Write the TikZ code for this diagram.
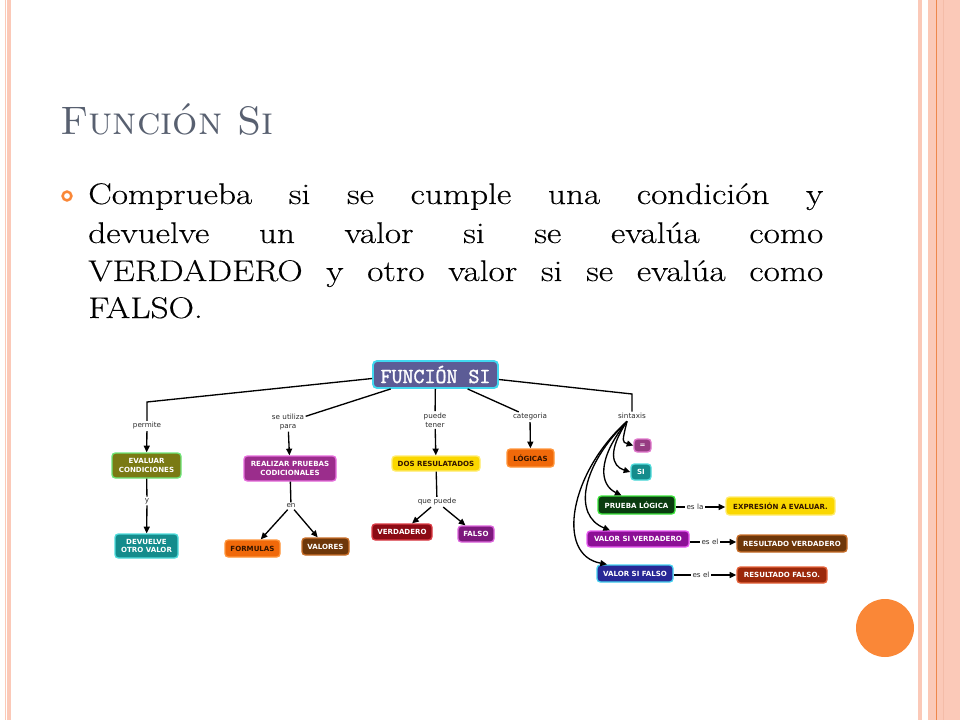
\documentclass[tikz,border=0pt]{standalone}
\usepackage{fontspec}
\usetikzlibrary{arrows.meta,calc}
\newfontfamily\dvs{DejaVu Sans}
\newfontfamily\bodyf{Latin Modern Roman}[FakeStretch=1.18, FakeBold=0.35]
\newfontfamily\fsimono{Latin Modern Mono}[FakeBold=1.6]
\definecolor{pinkst}{RGB}{251,201,184}
\definecolor{orangeln}{RGB}{238,135,75}
\definecolor{darkpink}{RGB}{244,188,168}
\definecolor{dotcol}{RGB}{250,135,55}
\definecolor{titlecol}{RGB}{88,96,112}
\definecolor{labelgray}{RGB}{45,45,45}
\definecolor{fsifill}{RGB}{92,92,150}
\definecolor{fsibord}{RGB}{64,216,240}
\definecolor{olive}{RGB}{122,122,20}
\definecolor{olivebd}{RGB}{110,230,120}
\definecolor{tealf}{RGB}{20,140,140}
\definecolor{tealbd}{RGB}{80,220,220}
\definecolor{magf}{RGB}{155,45,140}
\definecolor{magbd}{RGB}{230,110,220}
\definecolor{orf}{RGB}{240,105,10}
\definecolor{orbd}{RGB}{255,150,60}
\definecolor{ortext}{RGB}{50,20,0}
\definecolor{brf}{RGB}{110,55,10}
\definecolor{brbd}{RGB}{200,110,40}
\definecolor{yef}{RGB}{250,215,0}
\definecolor{yebd}{RGB}{255,236,110}
\definecolor{drf}{RGB}{140,10,20}
\definecolor{drbd}{RGB}{220,60,70}
\definecolor{puf}{RGB}{125,25,125}
\definecolor{pubd}{RGB}{220,100,220}
\definecolor{eqf}{RGB}{150,60,130}
\definecolor{eqbd}{RGB}{225,120,205}
\definecolor{dgf}{RGB}{10,60,15}
\definecolor{dgbd}{RGB}{60,230,60}
\definecolor{vsvf}{RGB}{140,15,150}
\definecolor{vsvbd}{RGB}{230,90,240}
\definecolor{dbf}{RGB}{40,40,150}
\definecolor{dbbd}{RGB}{70,210,240}
\definecolor{rff}{RGB}{155,40,10}
\definecolor{rfbd}{RGB}{230,100,60}
\tikzset{
  cbox/.style n args={3}{fill=#1, draw=#2, text=#3, rounded corners=2.5pt, line width=1pt,
    font=\dvs\bfseries\fontsize{5.3}{6.4}\selectfont, align=center, inner sep=1pt},
  wh/.style 2 args={minimum width=#1*0.75pt, minimum height=#2*0.75pt},
  lbl/.style={font=\dvs\fontsize{5.4}{6.8}\selectfont, text=labelgray, inner sep=1pt, align=center},
  conn/.style={line width=1pt, draw=black},
  arr/.style={conn, -{Triangle[length=5pt,width=4.5pt]}},
  bodyline/.style={anchor=base west, inner sep=0pt, font=\bodyf\fontsize{22.4}{28}\selectfont}
}
\begin{document}
\begin{tikzpicture}[x=0.75pt,y=-0.75pt]
\useasboundingbox (0,0) rectangle (960,720);
\fill[white] (0,0) rectangle (960,720);
% side stripes
\fill[pinkst] (4.7,0) rectangle (11.3,720);
\fill[white] (5.7,0) rectangle (6.7,720);
\fill[pinkst] (917.7,0) rectangle (921.7,720);
\fill[pinkst] (928,0) rectangle (960,720);
\fill[orangeln] (935.5,0) rectangle (936.7,720);
\fill[darkpink] (942.8,0) rectangle (944.2,720);
% orange dot
\node[circle, fill=dotcol, minimum size=43.5pt, inner sep=0pt] (dot) at (885,628) {};
% title
\node[anchor=base west, inner sep=0pt, text=titlecol, font=\fontsize{29.8}{36}\selectfont\scshape] (title) at (60,135) {Función Si};
% bullet
\node[circle, draw=dotcol, line width=1.9pt, minimum size=6.6pt, inner sep=0pt] (bul) at (67,196) {};
\node[bodyline] (l1) at (88,204) {\makebox[551.25pt][s]{Comprueba si se cumple una condición y}};
\node[bodyline] (l2) at (88,243) {\makebox[551.25pt][s]{devuelve un valor si se evalúa como}};
\node[bodyline] (l3) at (88,281) {\makebox[551.25pt][s]{VERDADERO y otro valor si se evalúa como}};
\node[bodyline] (l4) at (88,318) {FALSO.};
% concept map nodes
\node[cbox={fsifill}{fsibord}{white}, wh={125}{27}, font=\fsimono\fontsize{16}{16}\selectfont, rounded corners=3pt, line width=1.4pt] (fsi) at (435.5,374.5) {FUNCIÓN SI};
\node[cbox={olive}{olivebd}{white}, wh={69}{25}] (eval) at (146.5,465.5) {EVALUAR\\CONDICIONES};
\node[cbox={tealf}{tealbd}{white}, wh={63}{24}] (devuelve) at (146.5,546) {DEVUELVE\\OTRO VALOR};
\node[cbox={magf}{magbd}{white}, wh={92}{25}] (realizar) at (290,468.5) {REALIZAR PRUEBAS\\CODICIONALES};
\node[cbox={orf}{orbd}{ortext}, wh={55}{17}] (formulas) at (252.5,548.5) {FORMULAS};
\node[cbox={brf}{brbd}{white}, wh={47}{17}] (valores) at (325.5,546.5) {VALORES};
\node[cbox={yef}{yebd}{ortext}, wh={88}{15}] (dos) at (436,463.5) {DOS RESULATADOS};
\node[cbox={drf}{drbd}{white}, wh={60}{16}] (verdadero) at (402,532) {VERDADERO};
\node[cbox={puf}{pubd}{white}, wh={36}{16}] (falso) at (476,534) {FALSO};
\node[cbox={orf}{orbd}{ortext}, wh={47}{18}] (logicas) at (530.5,458) {LÓGICAS};
\node[cbox={eqf}{eqbd}{white}, wh={17}{13}] (eq) at (642.5,445.5) {=};
\node[cbox={tealf}{tealbd}{white}, wh={20}{16}] (si) at (641,472) {SI};
\node[cbox={dgf}{dgbd}{white}, wh={77}{18}] (prueba) at (636.5,505) {PRUEBA LÓGICA};
\node[cbox={yef}{yebd}{ortext}, wh={109}{18}] (expr) at (780.5,506) {EXPRESIÓN A EVALUAR.};
\node[cbox={vsvf}{vsvbd}{white}, wh={102}{16}] (vsv) at (638,539) {VALOR SI VERDADERO};
\node[cbox={brf}{brbd}{white}, wh={110}{17}] (resv) at (792,543.5) {RESULTADO VERDADERO};
\node[cbox={dbf}{dbbd}{white}, wh={76}{17}] (vsf) at (635,573.5) {VALOR SI FALSO};
\node[cbox={rff}{rfbd}{white}, wh={90}{16}] (resf) at (782,575) {RESULTADO FALSO.};
% labels
\node[lbl] (permite) at (147,426) {permite};
\node[lbl] (utiliza) at (288,422) {se utiliza\\para};
\node[lbl] (ylab) at (147,501) {y};
\node[lbl] (en) at (291,506) {en};
\node[lbl] (puede) at (435,420) {puede\\tener};
\node[lbl] (quepuede) at (437,502) {que puede};
\node[lbl] (cat) at (530,417) {categoria};
\node[lbl] (sint) at (632,416) {sintaxis};
\node[lbl] (esla) at (695,507) {es la};
\node[lbl] (esel1) at (710,542) {es el};
\node[lbl] (esel2) at (701,575) {es el};
\coordinate (c1) at (147,402);
\coordinate (c2) at (632,394);
\coordinate (s0) at ($(sint.south)+(-5,1)$);
% connectors
\draw[conn] ($(fsi.west)+(0,4)$) -- (c1) -- (permite);
\draw[arr] (permite) -- (eval);
\draw[conn] (fsi) -- (utiliza);
\draw[arr] (utiliza) -- (realizar);
\draw[conn] (eval) -- (ylab);
\draw[arr] (ylab) -- (devuelve);
\draw[conn] (realizar) -- (en);
\draw[arr] (en) -- (formulas);
\draw[arr] (en) -- (valores);
\draw[conn] (fsi) -- (puede);
\draw[arr] (puede) -- (dos);
\draw[conn] (dos) -- (quepuede);
\draw[arr] (quepuede) -- (verdadero);
\draw[arr] (quepuede) -- (falso);
\draw[conn] (fsi) -- (cat);
\draw[arr] (cat) -- (logicas);
\draw[conn] ($(fsi.east)+(0,5)$) -- (c2) -- (sint);
\draw[arr] (s0) .. controls (622,442) .. (eq.west);
\draw[arr] (s0) .. controls (608,450) and (611,466) .. (si.west);
\draw[arr] (s0) .. controls (596,460) and (600,485) .. ($(prueba.north)+(-15,0)$);
\draw[arr] (s0) .. controls (582,465) and (572,515) .. ($(vsv.north)+(-28,0)$);
\draw[arr] (s0) .. controls (570,472) and (555,555) .. ($(vsf.north)+(-28,0)$);
\draw[conn] (prueba.east |- esla) -- (esla);
\draw[arr] (esla) -- (expr.west |- esla);
\draw[conn] (vsv.east |- esel1) -- (esel1);
\draw[arr] (esel1) -- (resv.west |- esel1);
\draw[conn] (vsf.east |- esel2) -- (esel2);
\draw[arr] (esel2) -- (resf.west |- esel2);
\end{tikzpicture}
\end{document}
